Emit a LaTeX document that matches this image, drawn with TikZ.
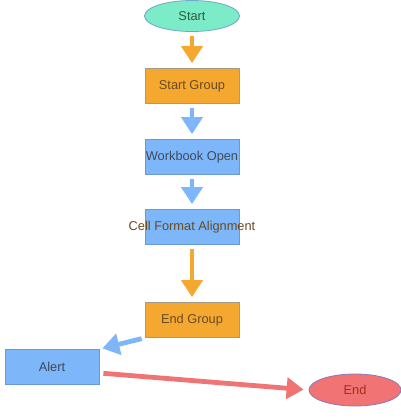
\documentclass[tikz,border=0pt]{standalone}
\usepackage{fontspec}
\setmainfont{Liberation Sans}
\usetikzlibrary{arrows.meta,shapes.geometric}
\definecolor{orfill}{HTML}{F5A82F}
\definecolor{orline}{HTML}{A39A8A}
\definecolor{bfill}{HTML}{7DB7F9}
\definecolor{bline}{HTML}{6A9AD6}
\definecolor{mint}{HTML}{7BEBC8}
\definecolor{mintline}{HTML}{6FA7C9}
\definecolor{redfill}{HTML}{F27373}
\definecolor{redline}{HTML}{8A78B8}
\definecolor{orarrow}{HTML}{F5A82F}
\definecolor{barrow}{HTML}{7DB7F9}
\definecolor{rarrow}{HTML}{F07474}
\definecolor{txtor}{HTML}{6B4A1E}
\definecolor{txtb}{HTML}{3F4A5A}
\definecolor{txtg}{HTML}{2F5E3A}
\definecolor{txtr}{HTML}{A0301E}
\begin{document}
\begin{tikzpicture}[x=1pt,y=-1pt,
  font=\fontsize{12.8}{14}\selectfont,
  box/.style={rectangle, minimum width=94pt, minimum height=35pt, inner sep=0pt, line width=0.8pt},
  obox/.style={box, fill=orfill, draw=orline, text=txtor},
  bbox/.style={box, fill=bfill, draw=bline, text=txtb},
  oval/.style={ellipse, inner sep=0pt, line width=0.8pt},
  conn/.style={line width=4.8pt, -{Triangle[width=21pt,length=17pt]}, shorten <=4pt, shorten >=5pt}
]
\useasboundingbox (0,0) rectangle (401,418);
\node[oval, fill=mint, draw=mintline, text=txtg, minimum width=95pt, minimum height=31pt] (start) at (192,16) {Start};
\node[obox] (sg) at (192,86) {Start Group};
\node[bbox] (wo) at (192,157) {Workbook Open};
\node[bbox, text=txtor] (cfa) at (192,227) {\makebox[0pt]{Cell Format Alignment}};
\node[obox] (eg) at (192,320) {End Group};
\node[bbox] (alert) at (52,367) {Alert};
\node[oval, fill=redfill, draw=redline, text=txtr, minimum width=92pt, minimum height=32pt] (end) at (355,390) {End};
\draw[conn, draw=orarrow] (start) -- (sg);
\draw[conn, draw=barrow] (sg) -- (wo);
\draw[conn, draw=barrow] (wo) -- (cfa);
\draw[conn, draw=orarrow] (cfa) -- (eg);
\draw[conn, draw=barrow, shorten <=3pt, shorten >=3pt] (eg.south west) -- (alert.north east);
\draw[conn, draw=rarrow, shorten <=4pt] (alert.east) ++(0,6) coordinate (a1) (a1) -- (end.west);
\end{tikzpicture}
\end{document}
